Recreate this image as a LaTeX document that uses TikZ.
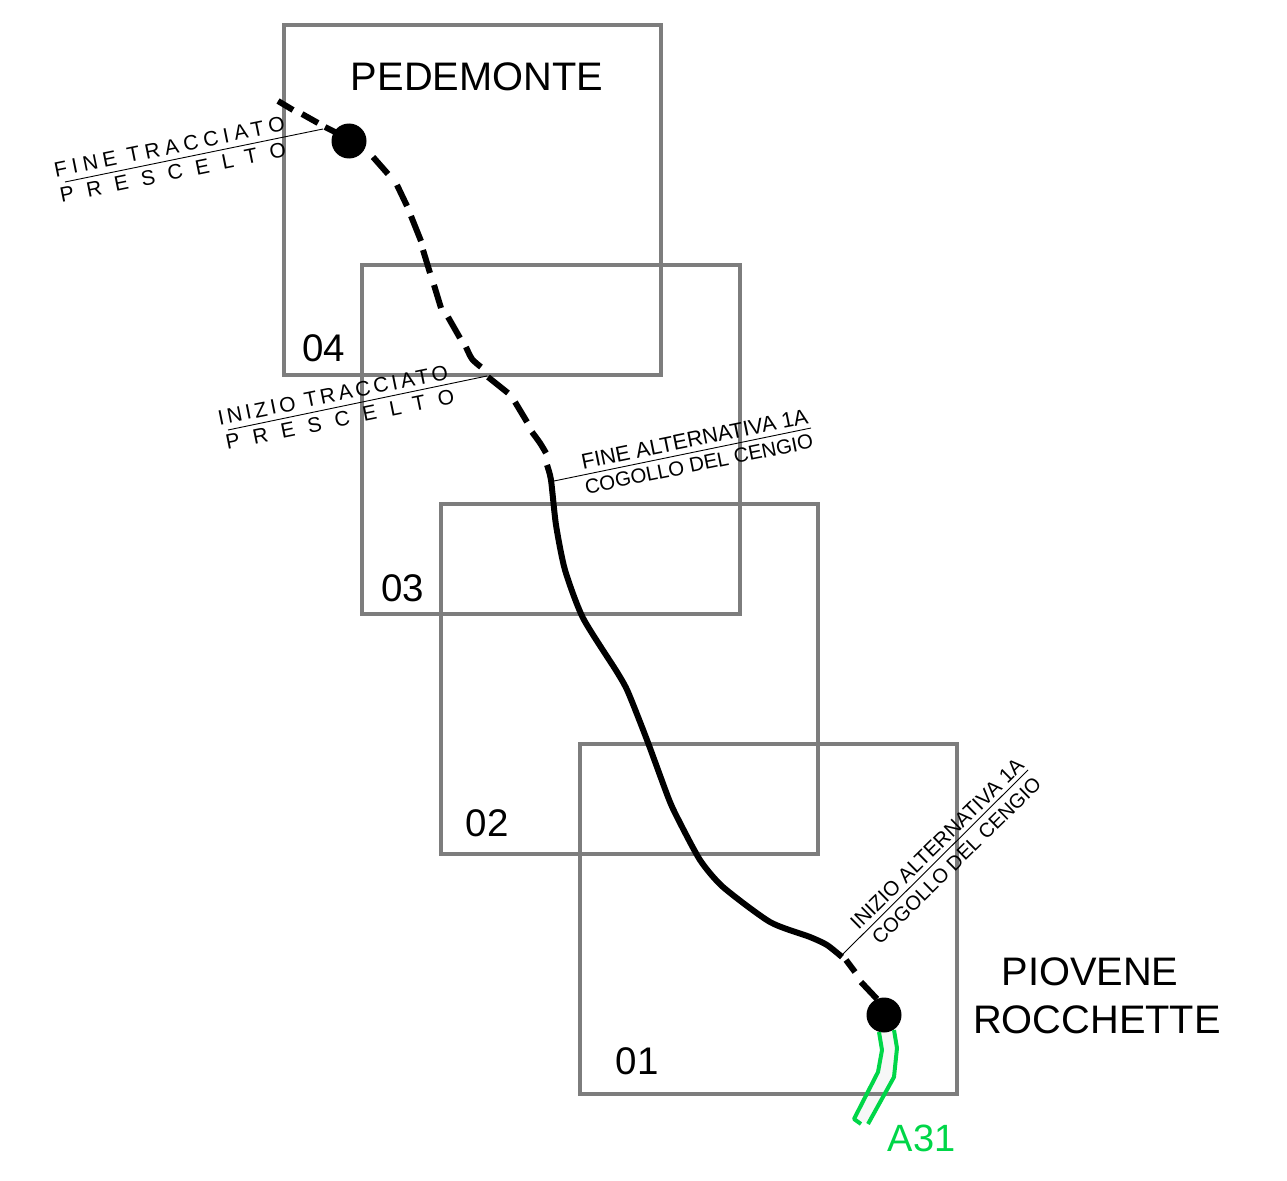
\documentclass[tikz,border=0pt]{standalone}
\usepackage{fontspec}
\setmainfont{Liberation Sans}
\definecolor{sheetgray}{RGB}{125,125,125}
\definecolor{a31green}{RGB}{0,214,72}
\tikzset{
  sheet/.style={draw=sheetgray,line width=4.6pt,line join=miter},
  route/.style={draw=black,line width=6pt,line cap=butt,line join=round},
  leader/.style={draw=black,line width=0.9pt},
  thintext/.style={inner sep=0pt,font=\fontsize{21}{21}\selectfont},
  bigtext/.style={inner sep=0pt,font=\fontsize{39.8}{40}\selectfont},
  numtext/.style={inner sep=0pt,font=\fontsize{38.5}{38}\selectfont},
  motor/.style={draw=a31green,line width=4pt,line join=round},
  enddot/.style={circle,fill=black,inner sep=0pt,minimum size=35pt}
}
\begin{document}
\begin{tikzpicture}[x=1pt,y=-1pt]
\useasboundingbox (0,0) rectangle (1287,1180);
\fill[black!3] (879,1032)--(882,1050)--(878,1072)--(853,1119)--(869,1123)--(894,1077)--(897,1048)--(894,1030)--cycle;
\draw[sheet] (284,25) rectangle (661,375);
\draw[sheet] (362,265) rectangle (740,614);
\draw[sheet] (441,504) rectangle (818,854);
\draw[sheet] (580,744) rectangle (957,1094);
\node[bigtext] (t1) at (477,77) {PEDEMONTE};
\node[bigtext] (t2) at (1090,972) {PIOVENE};
\node[bigtext] (t3) at (1097,1020) {ROCCHETTE};
\node[numtext] (n4) at (324,348) {04};
\node[numtext] (n3) at (403,588) {03};
\node[numtext] (n2) at (487,823) {02};
\node[numtext] (n1) at (637,1061) {01};
\node[font=\fontsize{38}{38}\selectfont,text=a31green,inner sep=0pt] (a31) at (921.5,1138) {A31};
% route
\draw[route] (278,101)--(293,110);
\draw[route] (302,114)--(318,123);
\draw[route] (325,127)--(337,133);
\draw[route] (373,157)--(388,174);
\draw[route] (397,185)--(407,206);
\draw[route] (411,216)--(421,241);
\draw[route] (423,250)--(430,273);
\draw[route] (434,285)--(441,308);
\draw[route] (448,317)--(460,338);
\draw[route] plot[smooth,tension=.5] coordinates {(466,347)(472,359)(481,367)};
\draw[route] (488,377)--(508,393);
\draw[route] (515,402)--(527,422);
\draw[route] plot[smooth,tension=.5] coordinates {(532,432)(540,443)(546,453)};
\draw[route] plot[smooth,tension=.4] coordinates {(547,465)(551,480)(556,525)(565,570)(583,618)(617,672)(628,692)(647,740)(668,797)(677,817)(700,860)(723,887)(770,922)(810,937)(827,945)(842,957)};
\draw[route] (846,960)--(855,972);
\draw[route] (861,982)--(877,999);
\node[enddot] (d1) at (349,141) {};
\node[enddot] (d2) at (884,1015) {};
% green
\draw[motor] (879,1032)--(882,1050)--(878,1072)--(854,1119)--(861,1124);
\draw[motor] (894,1030)--(897,1048)--(894,1077)--(868,1124);
% leaders
\coordinate (l1a) at (65,182); \coordinate (l1b) at (323,129);
\coordinate (l2a) at (228,430); \coordinate (l2b) at (487,376);
\coordinate (l3a) at (554,481); \coordinate (l3b) at (811,428);
\coordinate (l4a) at (843,954); \coordinate (l4b) at (1028,770);
\draw[leader] (l1a)--(l1b);
\draw[leader] (l2a)--(l2b);
\draw[leader] (l3a)--(l3b);
\draw[leader] (l4a)--(l4b);
\node[thintext,rotate=11.5] (a1) at (169.5,147) {\addfontfeatures{LetterSpace=24.5}FINE TRACCIATO};
\node[thintext,rotate=11.5] (a2) at (173,172.5) {\addfontfeatures{LetterSpace=62.5}PRESCELTO};
\node[thintext,rotate=11.5] (b1) at (333,395) {\addfontfeatures{LetterSpace=16}INIZIO TRACCIATO};
\node[thintext,rotate=11.5] (b2) at (340,419.5) {\addfontfeatures{LetterSpace=64}PRESCELTO};
\node[thintext,font=\fontsize{21.6}{22}\selectfont,rotate=11.5] (c1) at (694.5,439) {FINE ALTERNATIVA 1A};
\node[thintext,font=\fontsize{20.4}{21}\selectfont,rotate=11.5] (c2) at (699,464) {COGOLLO DEL CENGIO};
\node[thintext,font=\fontsize{20.6}{21}\selectfont,rotate=44.5] (e1) at (937,844) {INIZIO ALTERNATIVA 1A};
\node[thintext,font=\fontsize{20}{21}\selectfont,rotate=44.5] (e2) at (956.5,860.5) {COGOLLO DEL CENGIO};
\end{tikzpicture}
\end{document}
